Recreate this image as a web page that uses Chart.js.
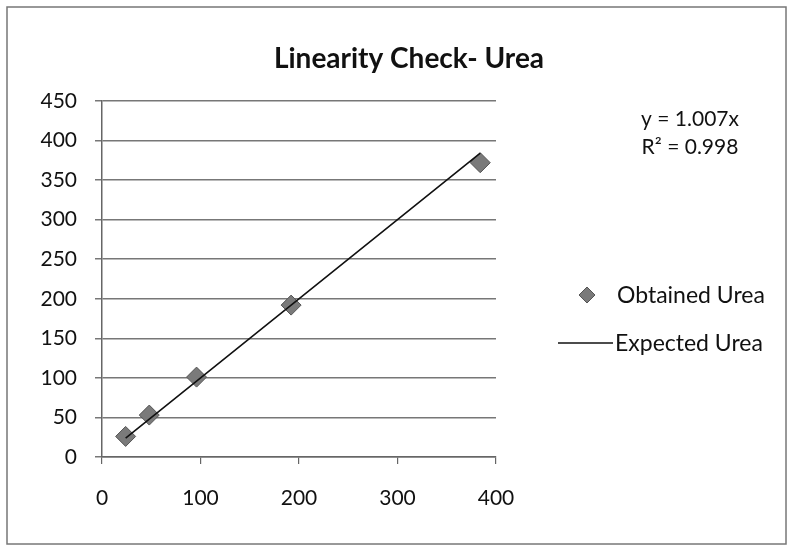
<!DOCTYPE html>
<html><head><meta charset="utf-8">
<script src="https://cdn.jsdelivr.net/npm/chart.js@4"></script>
<style>html,body{margin:0;padding:0;background:#fff}#c{display:block}</style>
</head><body>
<canvas id="c" width="789" height="554"></canvas>
<script>
const expectedUrea = [24, 48, 96, 192, 384];
const obtainedUrea = [26, 53, 101, 192, 372];
const xTicks = [0, 100, 200, 300, 400];
const yTicks = [0, 50, 100, 150, 200, 250, 300, 350, 400, 450];
const titleText = 'Linearity Check- Urea';
const equationLines = ['y = 1.007x', 'R² = 0.998'];
const seriesNames = ['Obtained Urea', 'Expected Urea'];

const FONT = 'Lato, "Open Sans", sans-serif';

const deco = {
  id: 'deco',
  beforeDraw(chart) {
    const ctx = chart.ctx;
    ctx.save();
    ctx.fillStyle = '#fff';
    ctx.fillRect(0, 0, chart.width, chart.height);
    ctx.strokeStyle = '#777';
    ctx.lineWidth = 1.5;
    ctx.strokeRect(7, 7, 779, 537);
    ctx.restore();
  },
  afterDraw(chart) {
    const ctx = chart.ctx;
    ctx.save();
    ctx.fillStyle = '#111';
    ctx.font = 'bold 28px ' + FONT;
    ctx.textAlign = 'center';
    ctx.textBaseline = 'middle';
    ctx.fillText(titleText, 409, 59);
    ctx.font = '21px ' + FONT;
    ctx.textAlign = 'center';
    ctx.fillText(equationLines[0], 690, 119);
    ctx.fillText(equationLines[1], 690, 147);
    // legend
    const ds0 = chart.data.datasets[0];
    const ds1 = chart.data.datasets[1];
    ctx.font = '23px ' + FONT;
    ctx.textAlign = 'left';
    ctx.fillText(seriesNames[0], 617, 296);
    ctx.fillText(seriesNames[1], 615, 344);
    ctx.fillStyle = ds0.backgroundColor;
    ctx.strokeStyle = ds0.borderColor;
    ctx.lineWidth = 1;
    ctx.beginPath();
    ctx.moveTo(587, 287); ctx.lineTo(595, 295); ctx.lineTo(587, 303); ctx.lineTo(579, 295); ctx.closePath();
    ctx.fill(); ctx.stroke();
    ctx.strokeStyle = ds1.borderColor;
    ctx.lineWidth = 1.5;
    ctx.beginPath(); ctx.moveTo(558, 343); ctx.lineTo(613, 343); ctx.stroke();
    ctx.restore();
  }
};

new Chart(document.getElementById('c'), {
  type: 'scatter',
  data: {
    datasets: [
      {
        label: seriesNames[0],
        data: expectedUrea.map((x, i) => ({x, y: obtainedUrea[i]})),
        pointStyle: 'rectRot',
        pointRadius: 10,
        backgroundColor: '#7a7a7a',
        borderColor: '#555',
        borderWidth: 1,
        showLine: false,
        order: 2
      },
      {
        label: seriesNames[1],
        data: expectedUrea.map(x => ({x, y: x})),
        showLine: true,
        pointRadius: 0,
        borderColor: '#111',
        borderWidth: 1.6,
        backgroundColor: '#111',
        order: 1
      }
    ]
  },
  options: {
    responsive: false,
    animation: false,
    events: [],
    layout: { padding: { top: 101, right: 293, left: 0, bottom: 0 } },
    plugins: { legend: { display: false }, title: { display: false }, tooltip: { enabled: false } },
    scales: {
      x: {
        type: 'linear', min: 0, max: 400,
        afterBuildTicks(s) { s.ticks = xTicks.map(v => ({value: v})); },
        afterFit(s) { s.height = 97; },
        grid: { drawOnChartArea: false, drawTicks: true, tickLength: 7, color: '#666', lineWidth: 1.2 },
        border: { color: '#666', width: 1.5 },
        ticks: { color: '#111', font: { size: 21, family: FONT }, padding: 22, maxRotation: 0 }
      },
      y: {
        type: 'linear', min: 0, max: 450,
        afterBuildTicks(s) { s.ticks = yTicks.map(v => ({value: v})); },
        afterFit(s) { s.width = 102; },
        grid: { drawOnChartArea: true, drawTicks: true, tickLength: 7, color: '#777', lineWidth: 1.5 },
        border: { color: '#666', width: 1.5 },
        ticks: { color: '#111', font: { size: 21, family: FONT }, padding: 18 }
      }
    }
  },
  plugins: [deco]
});
</script>
</body></html>
